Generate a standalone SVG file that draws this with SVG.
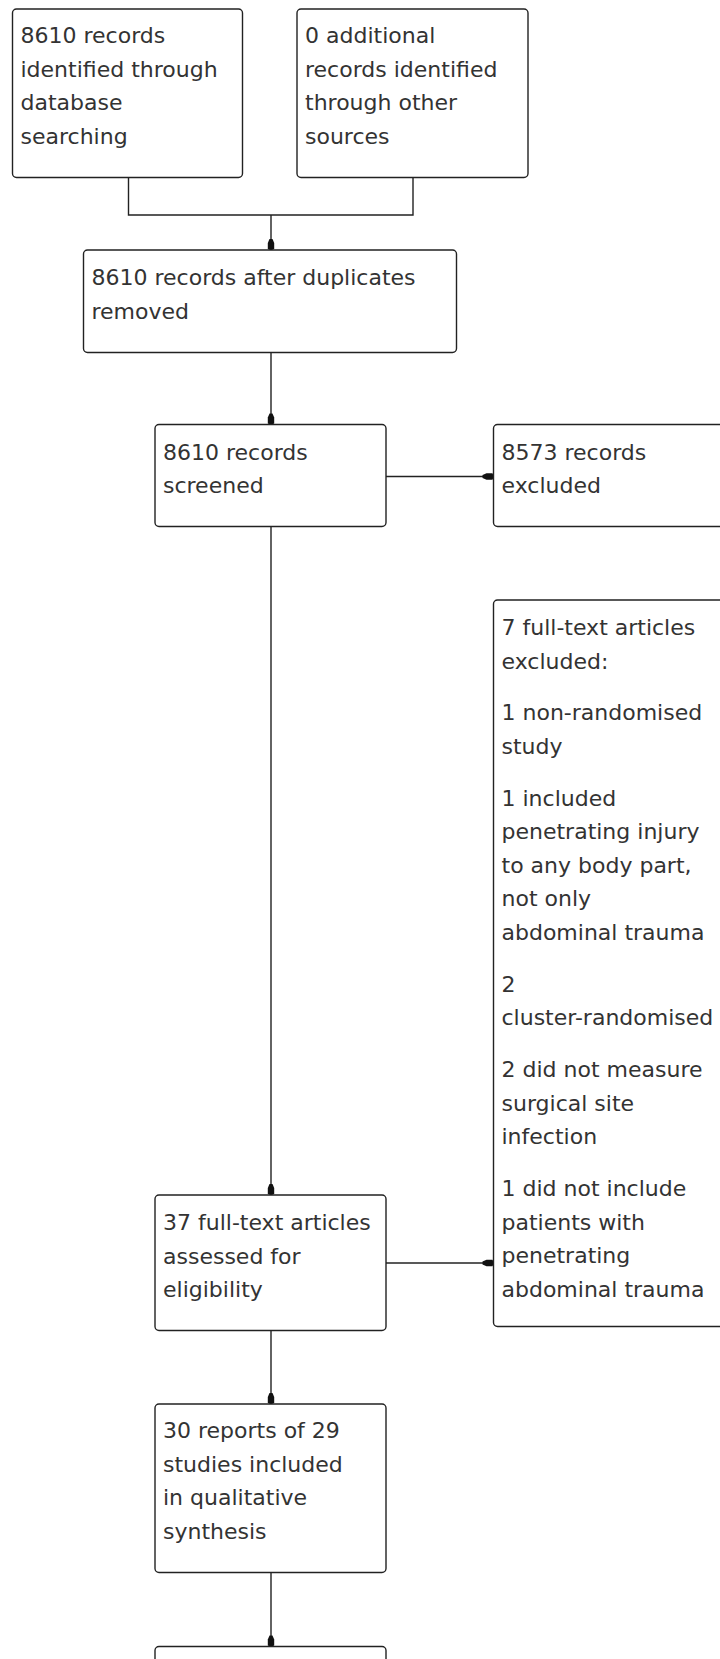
<svg xmlns="http://www.w3.org/2000/svg" width="720" height="1659" viewBox="0 0 720 1659">
<style>
.box{fill:#fff;stroke:#222;stroke-width:1.4}
.t{font-family:"DejaVu Sans","Liberation Sans",sans-serif;font-size:22px;fill:#333}
.ln{fill:none;stroke:#222;stroke-width:1.4}
</style>
<defs>
<marker id="ah" viewBox="-1 -5 13 10" markerWidth="13" markerHeight="10" refX="11" refY="0" orient="auto" markerUnits="userSpaceOnUse">
<path d="M0,-1.5 L4,-3.2 L10,-3.2 L11,-1 L11,1 L10,3.2 L4,3.2 L0,1.5 Z" fill="#111"/>
</marker>
</defs>
<rect width="720" height="1659" fill="#fff"/>
<g id="connectors">
<path class="ln" d="M128.5,177.5 V215 H413 V177.5"/>
<line class="ln" x1="271" y1="215" x2="271" y2="250" marker-end="url(#ah)"/>
<line class="ln" x1="271" y1="352.5" x2="271" y2="424.5" marker-end="url(#ah)"/>
<line class="ln" x1="386" y1="476.5" x2="493.5" y2="476.5" marker-end="url(#ah)"/>
<line class="ln" x1="271" y1="526.5" x2="271" y2="1195" marker-end="url(#ah)"/>
<line class="ln" x1="386" y1="1263" x2="493.5" y2="1263" marker-end="url(#ah)"/>
<line class="ln" x1="271" y1="1330.5" x2="271" y2="1404" marker-end="url(#ah)"/>
<line class="ln" x1="271" y1="1572.5" x2="271" y2="1646.5" marker-end="url(#ah)"/>
</g>
<g id="identified-db">
<rect class="box" x="12.5" y="9" width="230" height="168.5" rx="4"/>
<text class="t"><tspan x="20.5" y="43">8610 records</tspan><tspan x="20.5" y="76.5">identified through</tspan><tspan x="20.5" y="110">database</tspan><tspan x="20.5" y="143.5">searching</tspan></text>
</g>
<g id="identified-other">
<rect class="box" x="297" y="9" width="231" height="168.5" rx="4"/>
<text class="t"><tspan x="305" y="43">0 additional</tspan><tspan x="305" y="76.5">records identified</tspan><tspan x="305" y="110">through other</tspan><tspan x="305" y="143.5">sources</tspan></text>
</g>
<g id="after-duplicates">
<rect class="box" x="83.5" y="250" width="373" height="102.5" rx="4"/>
<text class="t"><tspan x="91.5" y="285">8610 records after duplicates</tspan><tspan x="91.5" y="318.5">removed</tspan></text>
</g>
<g id="screened">
<rect class="box" x="155" y="424.5" width="231" height="102" rx="4"/>
<text class="t"><tspan x="163" y="459.5">8610 records</tspan><tspan x="163" y="493">screened</tspan></text>
</g>
<g id="excluded">
<rect class="box" x="493.5" y="424.5" width="240" height="102" rx="4"/>
<text class="t"><tspan x="501.5" y="459.5">8573 records</tspan><tspan x="501.5" y="493">excluded</tspan></text>
</g>
<g id="fulltext-excluded">
<rect class="box" x="493.5" y="600" width="240" height="726.5" rx="4"/>
<text class="t">
<tspan x="501.5" y="635">7 full-text articles</tspan><tspan x="501.5" y="668.5">excluded:</tspan>
<tspan x="501.5" y="720.4">1 non-randomised</tspan><tspan x="501.5" y="753.9">study</tspan>
<tspan x="501.5" y="805.8">1 included</tspan><tspan x="501.5" y="839.3">penetrating injury</tspan><tspan x="501.5" y="872.8">to any body part,</tspan><tspan x="501.5" y="906.3">not only</tspan><tspan x="501.5" y="939.8">abdominal trauma</tspan>
<tspan x="501.5" y="991.7">2</tspan><tspan x="501.5" y="1025.2">cluster-randomised</tspan>
<tspan x="501.5" y="1077.1">2 did not measure</tspan><tspan x="501.5" y="1110.6">surgical site</tspan><tspan x="501.5" y="1144.1">infection</tspan>
<tspan x="501.5" y="1196">1 did not include</tspan><tspan x="501.5" y="1229.5">patients with</tspan><tspan x="501.5" y="1263">penetrating</tspan><tspan x="501.5" y="1296.5">abdominal trauma</tspan>
</text>
</g>
<g id="fulltext-assessed">
<rect class="box" x="155" y="1195" width="231" height="135.5" rx="4"/>
<text class="t"><tspan x="163" y="1230">37 full-text articles</tspan><tspan x="163" y="1263.5">assessed for</tspan><tspan x="163" y="1297">eligibility</tspan></text>
</g>
<g id="qualitative">
<rect class="box" x="155" y="1404" width="231" height="168.5" rx="4"/>
<text class="t"><tspan x="163" y="1438">30 reports of 29</tspan><tspan x="163" y="1471.5">studies included</tspan><tspan x="163" y="1505">in qualitative</tspan><tspan x="163" y="1538.5">synthesis</tspan></text>
</g>
<g id="next">
<rect class="box" x="155" y="1646.5" width="231" height="100" rx="4"/>
</g>
</svg>
